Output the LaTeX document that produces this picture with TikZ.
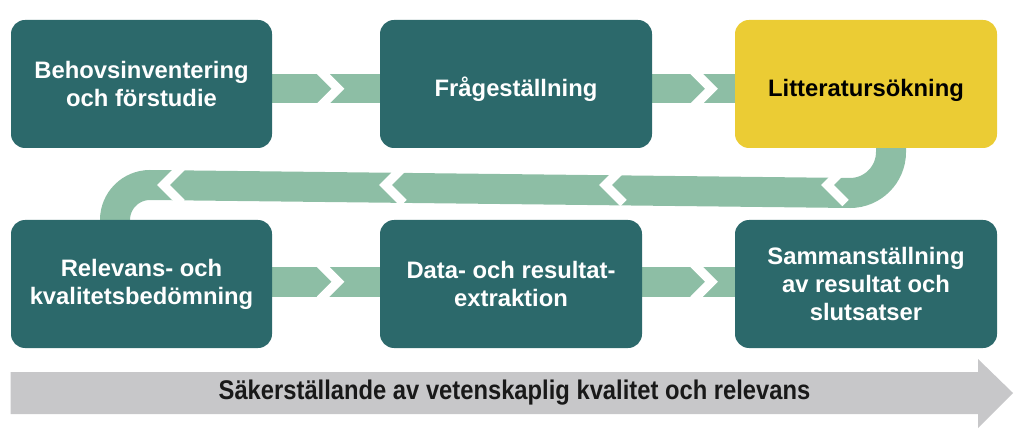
\documentclass[tikz,border=0pt]{standalone}
\usepackage{fontspec}
\setmainfont{Liberation Sans}
\newfontfamily\narrowfont[FakeStretch=0.88]{Liberation Sans}
\usepackage{tikz}
\definecolor{stepteal}{RGB}{44,105,107}
\definecolor{stepyellow}{RGB}{235,204,52}
\definecolor{bandgreen}{RGB}{141,190,165}
\definecolor{qualgray}{RGB}{199,199,201}
\pgfdeclarelayer{bg}
\pgfsetlayers{bg,main}
\tikzset{x=1pt, y=1pt,
stepbox/.style={ % Sets the properties for each step
rectangle, rounded corners=14pt,
fill=stepteal, text=white,
minimum height=128pt, outer sep=0pt,
align=center, font=\bfseries\fontsize{23.8}{28}\selectfont},
band/.style={ % Sets the properties for the green bands
draw=bandgreen, line width=29.5pt},
notch/.style={ % White cut that makes the chevrons
draw=white, line width=9pt, line join=miter}}

\begin{document}
\begin{tikzpicture}
\useasboundingbox (0,0) rectangle (1024,434);
\node[stepbox, minimum width=261pt] (beh) at (141.5,350) {Behovsinventering\\och förstudie};
\node[stepbox, minimum width=272pt, text height=31pt] (fra) at (516,350) {Frågeställning};
\node[stepbox, minimum width=262pt, text height=31pt, fill=stepyellow, text=black] (lit) at (866,350) {Litteratursökning};
\node[stepbox, minimum width=261pt] (rel) at (141.5,150) {Relevans- och\\kvalitetsbedömning};
\node[stepbox, minimum width=262pt] (dat) at (511,150) {Data- och resultat-\\extraktion};
\node[stepbox, minimum width=262pt] (sam) at (866,150) {Sammanställning\\av resultat och\\slutsatser};
\begin{pgfonlayer}{bg}
\draw[band] ([yshift=-4.75pt]beh.east) -- ([yshift=-4.75pt]fra.west);
\draw[band] ([yshift=-4.75pt]fra.east) -- ([yshift=-4.75pt]lit.west);
\draw[band] ([yshift=2.25pt]rel.east) -- ([yshift=2.25pt]dat.west);
\draw[band] ([yshift=2.25pt]dat.east) -- ([yshift=2.25pt]sam.west);
% way back from the search to the assessment
\draw[band, line width=30pt] ([xshift=25pt, yshift=8pt]lit.south) -- ++(0,-12)
  arc[start angle=0, end angle=-90, radius=41]
  -- ([xshift=8.5pt, yshift=35pt]rel.north)
  arc[start angle=90, end angle=180, radius=35] -- ++(0,-8);
\foreach \x/\y in {320/345.25, 693.5/345.25, 320/152.25, 693.5/152.25}
  \draw[notch] (\x,\y+18) -- (\x+18,\y) -- (\x,\y-18);
\foreach \p in {158,380,600,822}
  \draw[notch] (\p+23.5,267) -- (\p+5.5,249) -- (\p+23.5,231);
\end{pgfonlayer}
\fill[qualgray] (10.7,20) -- (978,20) -- (978,6) -- (1013,41) -- (978,75) -- (978,62) -- (10.7,62) -- cycle;
\node[font=\narrowfont\bfseries\fontsize{27}{32}\selectfont, text=black!90] (qual) at (514.5,41) {Säkerställande av vetenskaplig kvalitet och relevans};
\end{tikzpicture}
\end{document}
